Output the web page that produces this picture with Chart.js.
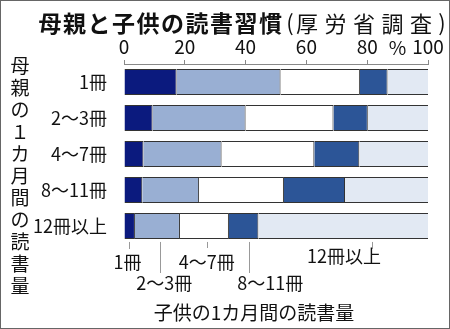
<!DOCTYPE html>
<html>
<head>
<meta charset="utf-8">
<script src="https://cdn.jsdelivr.net/npm/chart.js@4"></script>
<style>
  html, body { margin: 0; padding: 0; background: #fff; }
  canvas { display: block; }
</style>
</head>
<body>
<canvas id="myChart" width="450" height="329"></canvas>
<script>
// mother's monthly reading (rows)
const motherLabels = ["1冊", "2～3冊", "4～7冊", "8～11冊", "12冊以上"];
// child's monthly reading (stack segments), % of each row
const childLabels = ["1冊", "2～3冊", "4～7冊", "8～11冊", "12冊以上"];
const child1 = [17.3, 9.4, 6.4, 6.0, 3.6];
const child2to3 = [34.2, 30.6, 25.7, 18.7, 14.8];
const child4to7 = [26.1, 28.9, 30.5, 27.9, 16.1];
const child8to11 = [9.1, 11.3, 14.8, 20.1, 9.7];
const child12plus = [13.3, 19.8, 22.6, 27.3, 55.8];
const xTicks = [0, 20, 40, 60, 80, 100];

const FONT = "'Noto Sans CJK JP', 'Noto Sans', sans-serif";
const colors = ["#0b1a7e", "#99afd3", "#ffffff", "#2c5597", "#e2e9f3"];
const series = [child1, child2to3, child4to7, child8to11, child12plus];

function spaced(ctx, text, x0, y, pitch) {
  for (let i = 0; i < text.length; i++) {
    ctx.fillText(text[i], x0 + i * pitch, y);
  }
}

const decorations = {
  id: "decorations",
  afterDraw(chart) {
    const ctx = chart.ctx;
    const x = chart.scales.x;
    ctx.save();

    // frame
    ctx.strokeStyle = "#666";
    ctx.lineWidth = 1;
    ctx.strokeRect(0.5, 0.5, 449, 328);

    // title
    ctx.fillStyle = "#111";
    ctx.textBaseline = "middle";
    ctx.textAlign = "center";
    ctx.font = "bold 23px " + FONT;
    spaced(ctx, "母親と子供の読書習慣", 50, 23, 24.5);
    ctx.font = "22px " + FONT;
    ctx.fillText("(", 290, 23);
    spaced(ctx, "厚労省調査", 307, 24, 28.5);
    ctx.fillText(")", 442, 23);

    // % unit on the top axis
    ctx.font = "19px " + FONT;
    ctx.fillText("%", x.getPixelForValue(90), 48);

    // vertical axis title
    const vt = "母親の１カ月間の読書量";
    for (let i = 0; i < vt.length; i++) {
      ctx.fillText(vt[i], 20, 66 + i * 22);
    }

    // leader lines from the last row to the segment names
    const last = motherLabels.length - 1;
    const meta = chart.getDatasetMeta(0);
    const barBottom = meta.data[last].y + meta.data[last].height / 2;
    const anchor = [0.5, 0.56, 0.55, 0.69, 0.67];
    const lineEnd = [249, 273, 248, 273, 249];
    const labelY = [262, 283, 262, 283, 256];
    const labelDx = [-2, 4, 0, 21, -28];
    let cum = 0;
    ctx.strokeStyle = "#999";
    ctx.font = "18px " + FONT;
    for (let i = 0; i < series.length; i++) {
      const v = series[i][last];
      const lx = x.getPixelForValue(cum + v * anchor[i]);
      cum += v;
      const px = Math.round(lx) + 0.5;
      ctx.beginPath();
      ctx.moveTo(px, barBottom + 3);
      ctx.lineTo(px, lineEnd[i]);
      ctx.stroke();
      ctx.fillText(childLabels[i], lx + labelDx[i], labelY[i]);
    }

    // bottom title
    ctx.font = "19px " + FONT;
    ctx.fillText("子供の1カ月間の読書量", 254, 313);
    ctx.restore();
  }
};

new Chart(document.getElementById("myChart"), {
  type: "bar",
  data: {
    labels: motherLabels,
    datasets: series.map((d, i) => ({
      label: childLabels[i],
      data: d,
      backgroundColor: colors[i],
      borderColor: "#333",
      borderWidth: { top: 1, bottom: 1, left: 0, right: i < series.length - 1 ? 1 : 0 },
      borderSkipped: false,
      barPercentage: 0.72,
      categoryPercentage: 1.0
    }))
  },
  options: {
    indexAxis: "y",
    responsive: false,
    animation: false,
    layout: { padding: { top: 30, left: 0, right: 22, bottom: 85 } },
    plugins: {
      legend: { display: false },
      tooltip: { enabled: false },
      title: { display: false }
    },
    scales: {
      x: {
        position: "top",
        stacked: true,
        min: 0,
        max: 100,
        afterBuildTicks(scale) {
          scale.ticks = xTicks.map(v => ({ value: v }));
        },
        afterFit(scale) { scale.height = 34; },
        grid: { drawOnChartArea: false, drawTicks: true, tickLength: 4, color: "#888" },
        border: { display: true, color: "#888" },
        ticks: {
          padding: 2,
          color: "#111",
          maxRotation: 0,
          font: { family: FONT, size: 19 }
        }
      },
      y: {
        stacked: true,
        afterFit(scale) { scale.width = 124; },
        grid: { display: false },
        border: { display: false },
        ticks: {
          padding: 9,
          color: "#111",
          font: { family: FONT, size: 18 }
        }
      }
    }
  },
  plugins: [decorations]
});
</script>
</body>
</html>
